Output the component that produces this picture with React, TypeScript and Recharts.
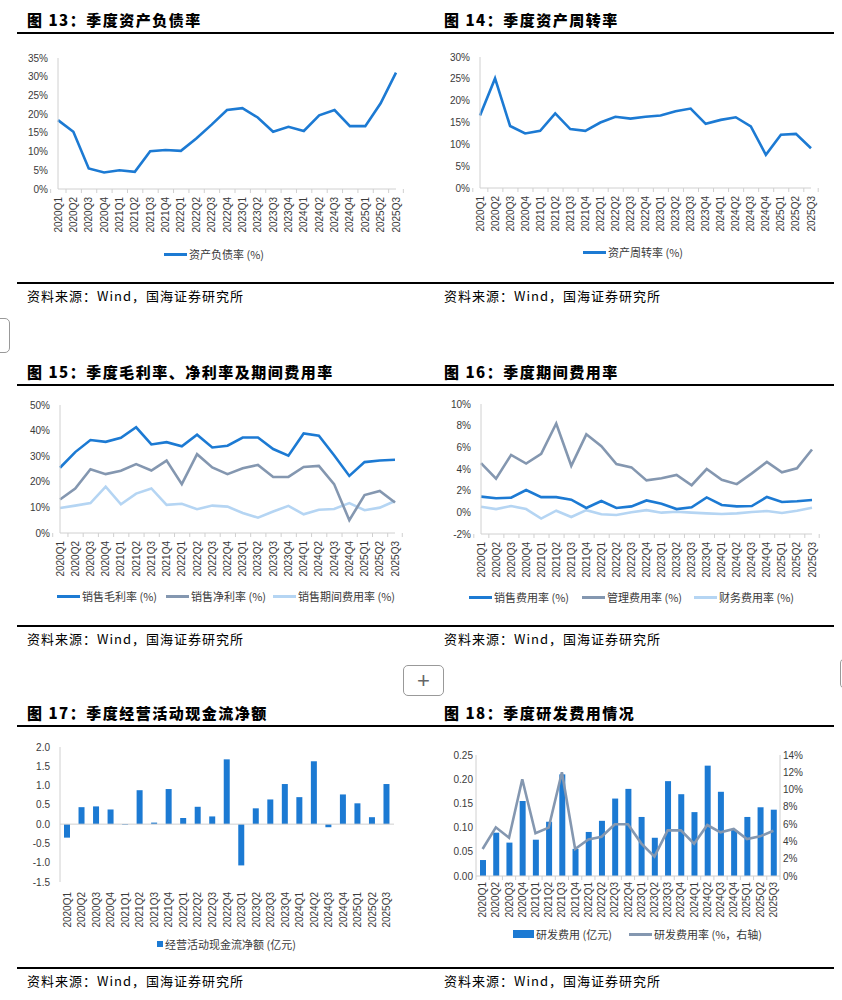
import React from 'react';
import {
  LineChart,
  Line,
  BarChart,
  Bar,
  ComposedChart,
  XAxis,
  YAxis,
  ReferenceLine,
} from 'recharts';

const QUARTERS = [
  '2020Q1', '2020Q2', '2020Q3', '2020Q4',
  '2021Q1', '2021Q2', '2021Q3', '2021Q4',
  '2022Q1', '2022Q2', '2022Q3', '2022Q4',
  '2023Q1', '2023Q2', '2023Q3', '2023Q4',
  '2024Q1', '2024Q2', '2024Q3', '2024Q4',
  '2025Q1', '2025Q2', '2025Q3',
];

// 图13 资产负债率 (%)
const DEBT_RATIO = [18.4, 15.3, 5.5, 4.4, 5.0, 4.6, 10.1, 10.4, 10.2, 13.5, 17.2, 21.1, 21.6, 19.1, 15.3, 16.6, 15.5, 19.7, 21.1, 16.8, 16.8, 22.9, 31.1];
// 图14 资产周转率 (%)
const ASSET_TURNOVER = [16.6, 25.1, 14.2, 12.5, 13.1, 17.1, 13.5, 13.1, 15.0, 16.3, 15.9, 16.3, 16.6, 17.6, 18.2, 14.7, 15.6, 16.2, 14.1, 7.6, 12.2, 12.4, 9.1];
// 图15
const GROSS_MARGIN = [25.5, 31.6, 36.3, 35.6, 37.2, 41.3, 34.6, 35.5, 33.9, 38.4, 33.4, 34.1, 37.3, 37.3, 32.8, 30.2, 38.9, 38.0, 30.4, 22.3, 27.7, 28.3, 28.6];
const NET_MARGIN = [13.1, 17.4, 24.9, 23.0, 24.3, 26.9, 24.4, 28.3, 19.1, 30.8, 25.6, 23.0, 25.3, 26.6, 21.9, 21.9, 25.8, 26.2, 19.1, 5.0, 14.8, 16.4, 11.9];
const PERIOD_EXPENSE = [9.8, 10.7, 11.7, 18.1, 11.2, 15.4, 17.4, 11.0, 11.4, 9.3, 10.7, 10.3, 7.8, 6.0, 8.4, 10.6, 7.3, 9.1, 9.4, 11.7, 8.9, 9.9, 12.5];
// 图16
const SELLING_RATIO = [1.45, 1.3, 1.35, 2.06, 1.4, 1.4, 1.17, 0.4, 1.05, 0.4, 0.55, 1.1, 0.8, 0.3, 0.46, 1.38, 0.68, 0.55, 0.58, 1.42, 0.95, 1.02, 1.14];
const ADMIN_RATIO = [4.55, 3.1, 5.3, 4.5, 5.4, 8.2, 4.3, 7.2, 6.1, 4.46, 4.15, 2.95, 3.14, 3.45, 2.5, 4.0, 3.0, 2.6, 3.6, 4.65, 3.7, 4.06, 5.8];
const FINANCE_RATIO = [0.52, 0.3, 0.58, 0.3, -0.58, 0.15, -0.43, 0.2, -0.18, -0.25, 0.0, 0.2, -0.03, 0.06, -0.03, -0.1, -0.15, -0.1, 0.03, 0.12, -0.06, 0.15, 0.43];
// 图17 经营活动现金流净额 (亿元)
const OPERATING_CF = [-0.35, 0.44, 0.46, 0.38, -0.02, 0.88, 0.04, 0.91, 0.16, 0.45, 0.2, 1.68, -1.07, 0.41, 0.64, 1.04, 0.7, 1.63, -0.08, 0.77, 0.54, 0.18, 1.04];
// 图18
const RD_EXPENSE = [0.033, 0.0895, 0.069, 0.155, 0.075, 0.112, 0.21, 0.056, 0.091, 0.114, 0.16, 0.18, 0.122, 0.079, 0.196, 0.169, 0.132, 0.228, 0.174, 0.095, 0.122, 0.142, 0.137];
const RD_RATIO = [3.12, 5.63, 4.43, 11.2, 4.94, 5.6, 12.0, 3.12, 4.24, 4.55, 5.98, 5.98, 3.78, 2.24, 5.28, 5.28, 3.74, 5.9, 5.05, 5.44, 4.28, 4.59, 5.24];

const TICKS_DEBT = [0, 5, 10, 15, 20, 25, 30, 35];
const TICKS_TURNOVER = [0, 5, 10, 15, 20, 25, 30];
const TICKS_MARGIN = [0, 10, 20, 30, 40, 50];
const TICKS_EXPENSE = [-2, 0, 2, 4, 6, 8, 10];
const TICKS_CF = [-1.5, -1.0, -0.5, 0, 0.5, 1.0, 1.5, 2.0];
const TICKS_RD = [0, 0.05, 0.1, 0.15, 0.2, 0.25];
const TICKS_RD_RATIO = [0, 2, 4, 6, 8, 10, 12, 14];

const BLUE = '#1c7ad3';
const GRAY = '#8497b0';
const LIGHT = '#b5d5f3';
const AXIS = '#d0d0d0';
const TXT = '#3a3a3a';
const FONT = '"Liberation Sans", Arial, "Noto Sans CJK SC", sans-serif';
const CJK = '"Noto Sans CJK SC", "Liberation Sans", sans-serif';

const data = QUARTERS.map((q, i) => ({
  q,
  debt: DEBT_RATIO[i],
  turnover: ASSET_TURNOVER[i],
  gross: GROSS_MARGIN[i],
  net: NET_MARGIN[i],
  period: PERIOD_EXPENSE[i],
  selling: SELLING_RATIO[i],
  admin: ADMIN_RATIO[i],
  finance: FINANCE_RATIO[i],
  cf: OPERATING_CF[i],
  rd: RD_EXPENSE[i],
  rdRatio: RD_RATIO[i],
}));

const pct = (v: number) => `${v}%`;
const yTick = { fontSize: 10, fill: TXT, fontFamily: FONT };

// rotated quarter label, plus Excel-like tick mark between categories
const QuarterTick = (props: any) => {
  const { x, y, payload, index, band, gap } = props;
  const last = index === QUARTERS.length - 1;
  return (
    <g>
      {band > 0 && (
        <line x1={x - band / 2} x2={x - band / 2} y1={y - gap} y2={y - gap + 4} stroke={AXIS} />
      )}
      {band > 0 && last && (
        <line x1={x + band / 2} x2={x + band / 2} y1={y - gap} y2={y - gap + 4} stroke={AXIS} />
      )}
      <text
        x={x}
        y={y}
        dy="0.35em"
        textAnchor="end"
        transform={`rotate(-90, ${x}, ${y})`}
        fontSize={10}
        fill={TXT}
        fontFamily={FONT}
      >
        {payload.value}
      </text>
    </g>
  );
};

const xAxisFor = (band: number, gap: number, axisLine = true) => (
  <XAxis
    dataKey="q"
    interval={0}
    height={50}
    tickSize={0}
    tickMargin={gap}
    axisLine={axisLine ? { stroke: AXIS } : false}
    tickLine={false}
    tick={(p: any) => <QuarterTick {...p} band={band} gap={gap} />}
  />
);

type LegendItem = { left: number; label: string; kind: 'line' | 'square' | 'rect'; color: string };

const Legend = ({ top, items }: { top: number; items: LegendItem[] }) => (
  <>
    {items.map((it) => {
      const w = it.kind === 'line' ? 23 : it.kind === 'rect' ? 21 : 6;
      const h = it.kind === 'line' ? 3 : it.kind === 'rect' ? 8 : 6;
      return (
        <div
          key={it.label}
          style={{ position: 'absolute', left: it.left, top: top - 8, height: 16, display: 'flex', alignItems: 'center' }}
        >
          <div style={{ width: w, height: h, background: it.color, marginRight: 2 }} />
          <span style={{ fontSize: 11, color: TXT, fontFamily: CJK, whiteSpace: 'nowrap' }}>{it.label}</span>
        </div>
      );
    })}
  </>
);

const Frame = ({ left, top, title, lineLeft, lineRight, bottomLine }: any) => (
  <>
    <div
      style={{
        position: 'absolute',
        left,
        top: top - 11,
        fontSize: 15,
        fontWeight: 900,
        letterSpacing: 1.5,
        fontFamily: CJK,
        color: '#000',
        whiteSpace: 'nowrap',
        lineHeight: '22px',
      }}
    >
      {title}
    </div>
    <div style={{ position: 'absolute', left: lineLeft, width: lineRight - lineLeft, top: top + 12, height: 2, background: '#000' }} />
    <div style={{ position: 'absolute', left: lineLeft, width: lineRight - lineLeft, top: bottomLine, height: 2, background: '#000' }} />
    <div
      style={{
        position: 'absolute',
        left,
        top: bottomLine + 4,
        fontSize: 13,
        letterSpacing: 1,
        fontFamily: CJK,
        color: '#000',
        whiteSpace: 'nowrap',
        lineHeight: '20px',
      }}
    >
      资料来源：Wind，国海证券研究所
    </div>
  </>
);

const box = (left: number, top: number, children: React.ReactNode) => (
  <div style={{ position: 'absolute', left, top }}>{children}</div>
);

export default function App() {
  return (
    <div style={{ position: 'absolute', left: 0, top: 0, width: 842, height: 1000, background: '#fff', overflow: 'hidden' }}>
      {/* row 1 */}
      <Frame left={27} top={20} title="图 13：季度资产负债率" lineLeft={17} lineRight={421} bottomLine={282} />
      <Frame left={444} top={20} title="图 14：季度资产周转率" lineLeft={421} lineRight={834} bottomLine={282} />
      {box(0, 40,
        <LineChart width={421} height={199} data={data} margin={{ top: 18, right: 25, bottom: 0, left: 18 }}>
          {xAxisFor(338 / 23, 8)}
          <YAxis width={40} domain={[0, 35]} ticks={TICKS_DEBT} tickFormatter={pct} tick={yTick} tickLine={false} tickSize={0} tickMargin={10} axisLine={{ stroke: AXIS }} interval={0} />
          <Line dataKey="debt" stroke={BLUE} strokeWidth={2.6} dot={false} isAnimationActive={false} />
        </LineChart>
      )}
      {box(421, 40,
        <LineChart width={421} height={198} data={data} margin={{ top: 17, right: 31, bottom: 0, left: 19 }}>
          {xAxisFor(331 / 23, 8)}
          <YAxis width={40} domain={[0, 30]} ticks={TICKS_TURNOVER} tickFormatter={pct} tick={yTick} tickLine={false} tickSize={0} tickMargin={10} axisLine={{ stroke: AXIS }} interval={0} />
          <Line dataKey="turnover" stroke={BLUE} strokeWidth={2.6} dot={false} isAnimationActive={false} />
        </LineChart>
      )}
      <Legend top={254} items={[{ left: 164, label: '资产负债率 (%)', kind: 'line', color: BLUE }]} />
      <Legend top={252} items={[{ left: 583, label: '资产周转率 (%)', kind: 'line', color: BLUE }]} />

      {/* row 2 */}
      <Frame left={27} top={372} title="图 15：季度毛利率、净利率及期间费用率" lineLeft={17} lineRight={421} bottomLine={625} />
      <Frame left={444} top={372} title="图 16：季度期间费用率" lineLeft={421} lineRight={834} bottomLine={625} />
      {box(0, 385,
        <LineChart width={421} height={198} data={data} margin={{ top: 20, right: 26, bottom: 0, left: 20 }}>
          {xAxisFor(335 / 23, 8)}
          <YAxis width={40} domain={[0, 50]} ticks={TICKS_MARGIN} tickFormatter={pct} tick={yTick} tickLine={false} tickSize={0} tickMargin={10} axisLine={{ stroke: AXIS }} interval={0} />
          <Line dataKey="period" stroke={LIGHT} strokeWidth={2.6} dot={false} isAnimationActive={false} />
          <Line dataKey="net" stroke={GRAY} strokeWidth={2.6} dot={false} isAnimationActive={false} />
          <Line dataKey="gross" stroke={BLUE} strokeWidth={2.6} dot={false} isAnimationActive={false} />
        </LineChart>
      )}
      {box(421, 385,
        <LineChart width={421} height={199} data={data} margin={{ top: 19, right: 30, bottom: 0, left: 20 }}>
          {xAxisFor(331 / 23, 8)}
          <YAxis width={40} domain={[-2, 10]} ticks={TICKS_EXPENSE} tickFormatter={pct} tick={yTick} tickLine={false} tickSize={0} tickMargin={10} axisLine={{ stroke: AXIS }} interval={0} />
          <Line dataKey="finance" stroke={LIGHT} strokeWidth={2.6} dot={false} isAnimationActive={false} />
          <Line dataKey="admin" stroke={GRAY} strokeWidth={2.6} dot={false} isAnimationActive={false} />
          <Line dataKey="selling" stroke={BLUE} strokeWidth={2.6} dot={false} isAnimationActive={false} />
        </LineChart>
      )}
      <Legend
        top={596}
        items={[
          { left: 57, label: '销售毛利率 (%)', kind: 'line', color: BLUE },
          { left: 166, label: '销售净利率 (%)', kind: 'line', color: GRAY },
          { left: 273, label: '销售期间费用率 (%)', kind: 'line', color: LIGHT },
        ]}
      />
      <Legend
        top={597}
        items={[
          { left: 469, label: '销售费用率 (%)', kind: 'line', color: BLUE },
          { left: 582, label: '管理费用率 (%)', kind: 'line', color: GRAY },
          { left: 694, label: '财务费用率 (%)', kind: 'line', color: LIGHT },
        ]}
      />

      {/* row 3 */}
      <Frame left={27} top={713} title="图 17：季度经营活动现金流净额" lineLeft={17} lineRight={421} bottomLine={967} />
      <Frame left={444} top={713} title="图 18：季度研发费用情况" lineLeft={421} lineRight={834} bottomLine={967} />
      {box(0, 730,
        <BarChart width={421} height={202} data={data} margin={{ top: 17, right: 27, bottom: 0, left: 20 }}>
          {xAxisFor(0, 10, false)}
          <YAxis width={40} domain={[-1.5, 2]} ticks={TICKS_CF} tickFormatter={(v: number) => v.toFixed(1)} tick={yTick} tickLine={false} tickSize={0} tickMargin={10} axisLine={{ stroke: AXIS }} interval={0} />
          <ReferenceLine y={0} stroke={AXIS} />
          <Bar dataKey="cf" fill={BLUE} barSize={6} isAnimationActive={false} />
        </BarChart>
      )}
      {box(421, 730,
        <ComposedChart width={421} height={196} data={data} margin={{ top: 25, right: 22, bottom: 0, left: 15 }}>
          {xAxisFor(304 / 23, 6)}
          <YAxis yAxisId="l" width={40} domain={[0, 0.25]} ticks={TICKS_RD} tickFormatter={(v: number) => v.toFixed(2)} tick={yTick} tickLine={false} tickSize={0} tickMargin={3} axisLine={{ stroke: AXIS }} interval={0} />
          <YAxis yAxisId="r" orientation="right" width={40} domain={[0, 14]} ticks={TICKS_RD_RATIO} tickFormatter={pct} tick={yTick} tickLine={false} tickSize={0} tickMargin={3} axisLine={{ stroke: AXIS }} interval={0} />
          <Bar yAxisId="l" dataKey="rd" fill={BLUE} barSize={6} isAnimationActive={false} />
          <Line yAxisId="r" dataKey="rdRatio" stroke={GRAY} strokeWidth={2.6} dot={false} isAnimationActive={false} />
        </ComposedChart>
      )}
      <Legend top={944} items={[{ left: 157, label: '经营活动现金流净额 (亿元)', kind: 'square', color: BLUE }]} />
      <Legend
        top={934}
        items={[
          { left: 513, label: '研发费用 (亿元)', kind: 'rect', color: BLUE },
          { left: 629, label: '研发费用率 (%，右轴)', kind: 'line', color: GRAY },
        ]}
      />

      {/* page chrome visible in the screenshot */}
      <div style={{ position: 'absolute', left: -12, top: 318, width: 20, height: 33, border: '1px solid #999', borderRadius: 5 }} />
      <div
        style={{
          position: 'absolute', left: 403, top: 665, width: 39, height: 29, border: '1px solid #999', borderRadius: 5,
          display: 'flex', alignItems: 'center', justifyContent: 'center', color: '#666', fontSize: 22, fontFamily: FONT, fontWeight: 300,
        }}
      >
        +
      </div>
      <div style={{ position: 'absolute', left: 840, top: 658, width: 20, height: 29, border: '1px solid #999', borderRadius: 5 }} />
    </div>
  );
}
